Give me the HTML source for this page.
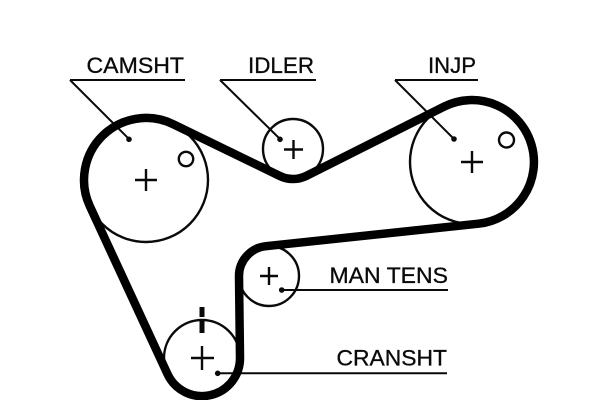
<!DOCTYPE html>
<html>
<head>
<meta charset="utf-8">
<style>
html,body{margin:0;padding:0;background:#fff;width:600px;height:400px;overflow:hidden}
svg{display:block}
text{font-family:"Liberation Sans",sans-serif;font-size:22px;fill:#0a0a0a;stroke:#0a0a0a;stroke-width:.3px}
</style>
</head>
<body>
<svg width="600" height="400" viewBox="0 0 600 400" xmlns="http://www.w3.org/2000/svg">
<rect width="600" height="400" fill="#fff"/>
<g fill="none" stroke="#0a0a0a" stroke-width="2.400">
<circle cx="146" cy="180" r="62"/>
<circle cx="293" cy="149" r="30"/>
<circle cx="472" cy="162" r="62"/>
<circle cx="269" cy="276" r="30"/>
<circle cx="202" cy="358" r="38"/>
<circle cx="186" cy="159" r="7.200"/>
<circle cx="506.500" cy="140" r="7.500"/>
<path d="M135 180H157M146 169V191"/>
<path d="M284 149.500H303M293.500 140V159"/>
<path d="M461 162H483M472 151V173"/>
<path d="M260 276H278M269 267V285"/>
<path d="M191 358H214M202 346V370"/>
</g>
<g fill="none" stroke="#0a0a0a" stroke-width="2">
<path d="M70 80H185M70 80L129 139"/>
<path d="M220 80H316M220 80L280 139"/>
<path d="M395 80H478M395 80L454 139"/>
<path d="M282 290H448"/>
<path d="M218 373.300H447"/>
</g>
<path fill="none" stroke="#000" stroke-width="8.500" stroke-linejoin="round" d="M173.100 124.200L279.900 176A30 30 0 0 0 306.500 175.800L444.200 106.600A62 62 0 1 1 478.500 223.700L265.900 246.200A30 30 0 0 0 239 276.300L240 357.600A38 38 0 0 1 167.500 374L89.800 206.100A62 62 0 0 1 173.100 124.200Z"/>
<g fill="#0a0a0a">
<circle cx="129" cy="139.300" r="2.800"/>
<circle cx="280" cy="139.300" r="2.800"/>
<circle cx="454" cy="139" r="2.800"/>
<circle cx="281.700" cy="290" r="2.800"/>
<circle cx="217.700" cy="373.300" r="2.800"/>
<rect x="199.500" y="307" width="5" height="10"/>
<rect x="199.500" y="321" width="5" height="12"/>
</g>
<text x="86.500" y="73" textLength="97.500" lengthAdjust="spacingAndGlyphs">CAMSHT</text>
<text x="248" y="73" textLength="66" lengthAdjust="spacingAndGlyphs">IDLER</text>
<text x="428" y="73" textLength="48" lengthAdjust="spacingAndGlyphs">INJP</text>
<text x="329.500" y="283" textLength="118.500" lengthAdjust="spacingAndGlyphs">MAN TENS</text>
<text x="336.500" y="365.300" textLength="110.500" lengthAdjust="spacingAndGlyphs">CRANSHT</text>
</svg>
</body>
</html>
